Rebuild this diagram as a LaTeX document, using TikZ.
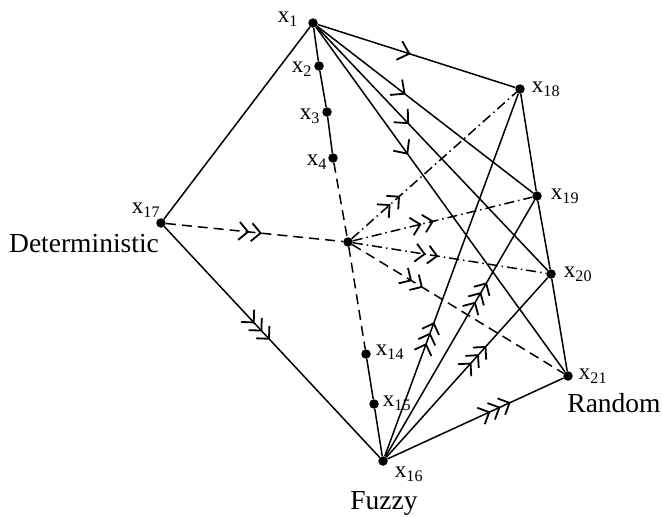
\documentclass[tikz,border=0pt]{standalone}
\usepackage{fontspec}
\setmainfont{Liberation Serif}
\usetikzlibrary{arrows.meta,decorations.markings}
\begin{document}
\begin{tikzpicture}[x=1pt,y=-1pt,
  dot/.style={circle,fill,inner sep=0pt,minimum size=9.5pt},
  lab/.style={font=\fontsize{23}{25}\selectfont, inner sep=0pt},
  big/.style={font=\fontsize{27.5}{30}\selectfont, inner sep=0pt},
  ln/.style={line width=1.5pt},
  dsh/.style={line width=1.5pt, dash pattern=on 10pt off 6pt},
  dd/.style={line width=1.5pt, dash pattern=on 10pt off 4pt on 1.5pt off 4pt},
  one/.style={postaction={decorate}, decoration={markings, mark=at position #1 with {\arrow[scale=1.5]{Straight Barb[length=7pt,width=13pt,line width=1.2pt]}}}},
  two/.style={postaction={decorate}, decoration={markings, mark=at position #1 with {\arrow[scale=1.5]{Straight Barb[length=6pt,width=12pt,line width=1.2pt,sep=1pt] Straight Barb[length=6pt,width=12pt,line width=1.2pt,sep=1pt]}}}},
  three/.style={postaction={decorate}, decoration={markings, mark=at position #1 with {\arrow[scale=1.5]{Straight Barb[length=6pt,width=12pt,line width=1.2pt,sep=0pt] Straight Barb[length=6pt,width=12pt,line width=1.2pt,sep=0pt] Straight Barb[length=6pt,width=12pt,line width=1.2pt,sep=0pt]}}}}
]
\useasboundingbox (0,0) rectangle (662,517);
% nodes
\node[dot] (x1) at (313,23) {};
\node[dot] (x2) at (319,66) {};
\node[dot] (x3) at (327,112) {};
\node[dot] (x4) at (333,158) {};
\node[dot] (c) at (348,242) {};
\node[dot] (x14) at (366,354) {};
\node[dot] (x15) at (374,404) {};
\node[dot] (x16) at (383,461) {};
\node[dot] (x17) at (161,223) {};
\node[dot] (x18) at (520,89) {};
\node[dot] (x19) at (537,196) {};
\node[dot] (x20) at (551,274) {};
\node[dot] (x21) at (568,376) {};
% labels
\node[lab] (l1) at (288,19) {x\textsubscript{1}};
\node[lab] (l2) at (302,69) {x\textsubscript{2}};
\node[lab] (l3) at (310,116) {x\textsubscript{3}};
\node[lab] (l4) at (317,162) {x\textsubscript{4}};
\node[lab] (l14) at (390,352) {x\textsubscript{14}};
\node[lab] (l15) at (397,403) {x\textsubscript{15}};
\node[lab] (l16) at (409,474) {x\textsubscript{16}};
\node[lab] (l17) at (146,210) {x\textsubscript{17}};
\node[lab] (l18) at (546,89) {x\textsubscript{18}};
\node[lab] (l19) at (565,196) {x\textsubscript{19}};
\node[lab] (l20) at (578,274) {x\textsubscript{20}};
\node[lab] (l21) at (593,376) {x\textsubscript{21}};
\node[big,anchor=base] (det) at (84,252) {Deterministic};
\node[big,anchor=base] (ran) at (614,412) {Random};
\node[big,anchor=base] (fuz) at (384,509) {Fuzzy};
% solid edges
\draw[ln] (x1) -- (x17);
\draw[ln] (x1) -- (x2) -- (x3) -- (x4);
\draw[ln] (x14) -- (x15) -- (x16);
\draw[ln] (x18) -- (x19) -- (x20) -- (x21);
\draw[ln,three=0.49] (x17) -- (x16);
% dashed centre lines
\draw[dsh,two=0.55] (x17) -- (c);
\draw[dsh] (x4) -- (c);
\draw[dsh] (c) -- (x14);
% from x1
\draw[ln,one=0.47] (x1) -- (x18);
\draw[ln,one=0.41] (x1) -- (x19);
\draw[ln,one=0.40] (x1) -- (x20);
\draw[ln,one=0.37] (x1) -- (x21);
% from centre
\draw[dd,two=0.30] (c) -- (x18);
\draw[dd,two=0.46] (c) -- (x19);
\draw[dd,two=0.45] (c) -- (x20);
\draw[dsh,two=0.34] (c) -- (x21);
% from x16
\draw[ln,three=0.37] (x16) -- (x18);
\draw[ln,three=0.68] (x16) -- (x19);
\draw[ln,three=0.62] (x16) -- (x20);
\draw[ln,three=0.70] (x16) -- (x21);
\end{tikzpicture}
\end{document}
